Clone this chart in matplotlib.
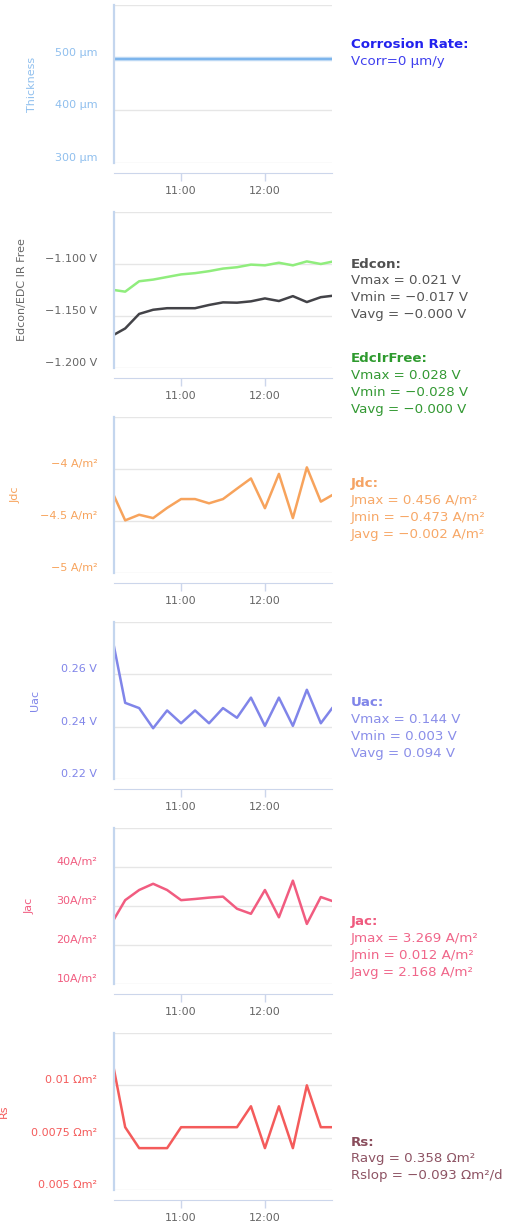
import matplotlib
matplotlib.use("Agg")
import matplotlib.pyplot as plt
import matplotlib.dates as mdates
from matplotlib.transforms import ScaledTranslation
import pandas as pd

# sample times (plot window is clipped to the first / last sample)
times = ["10:12", "10:20", "10:30", "10:40", "10:50", "11:00", "11:10", "11:20",
         "11:30", "11:40", "11:50", "12:00", "12:10", "12:20", "12:30", "12:40", "12:48"]

thickness = [497] * 17
edcon = [-1.168, -1.162, -1.148, -1.144, -1.1425, -1.1425, -1.1425, -1.1394, -1.1369,
         -1.1372, -1.1359, -1.1331, -1.1356, -1.1309, -1.1366, -1.1319, -1.1306]
edc_irfree = [-1.125, -1.1266, -1.1166, -1.115, -1.1125, -1.110, -1.1088, -1.1069, -1.1044,
              -1.1031, -1.1006, -1.1013, -1.0988, -1.1013, -1.0975, -1.100, -1.0978]
jdc = [-4.258, -4.494, -4.440, -4.472, -4.374, -4.289, -4.289, -4.330, -4.289,
       -4.189, -4.091, -4.377, -4.047, -4.472, -3.984, -4.314, -4.252]
uac = [0.2706, 0.2491, 0.2471, 0.2394, 0.2462, 0.2413, 0.2462, 0.2413, 0.2471,
       0.2434, 0.2511, 0.2403, 0.2511, 0.2403, 0.2541, 0.2413, 0.2470]
jac = [26.6, 31.5, 34.1, 35.7, 34.1, 31.5, 31.8, 32.15, 32.4,
       29.3, 28.0, 34.1, 27.1, 36.5, 25.4, 32.3, 31.3]
rs = [0.01075, 0.0080, 0.0070, 0.0070, 0.0070, 0.0080, 0.0080, 0.0080, 0.0080,
      0.0080, 0.0090, 0.0070, 0.0090, 0.0070, 0.0100, 0.0080, 0.0080]

# y tick values / labels per panel
thick_ticks = [300, 400, 500, 600]
thick_labels = ["300 µm", "400 µm", "500 µm", ""]
edc_ticks = [-1.2, -1.15, -1.1, -1.05]
edc_labels = ["\u22121.200 V", "\u22121.150 V", "\u22121.100 V", ""]
jdc_ticks = [-5, -4.5, -4, -3.5]
jdc_labels = ["\u22125 A/m²", "\u22124.5 A/m²", "\u22124 A/m²", ""]
uac_ticks = [0.22, 0.24, 0.26, 0.28]
uac_labels = ["0.22 V", "0.24 V", "0.26 V", ""]
jac_ticks = [10, 20, 30, 40, 50]
jac_labels = ["10A/m²", "20A/m²", "30A/m²", "40A/m²", ""]
rs_ticks = [0.005, 0.0075, 0.01, 0.0125]
rs_labels = ["0.005 Ωm²", "0.0075 Ωm²", "0.01 Ωm²", ""]

# statistics text on the right of each panel
corr_text = ["Corrosion Rate:", "Vcorr=0 µm/y"]
edcon_text = ["Edcon:", "Vmax = 0.021 V", "Vmin = \u22120.017 V", "Vavg = \u22120.000 V"]
irfree_text = ["EdcIrFree:", "Vmax = 0.028 V", "Vmin = \u22120.028 V", "Vavg = \u22120.000 V"]
jdc_text = ["Jdc:", "Jmax = 0.456 A/m²", "Jmin = \u22120.473 A/m²", "Javg = \u22120.002 A/m²"]
uac_text = ["Uac:", "Vmax = 0.144 V", "Vmin = 0.003 V", "Vavg = 0.094 V"]
jac_text = ["Jac:", "Jmax = 3.269 A/m²", "Jmin = 0.012 A/m²", "Javg = 2.168 A/m²"]
rs_text = ["Rs:", "Ravg = 0.358 Ωm²", "Rslop = \u22120.093 Ωm²/d"]

W, H = 527, 1223
fig = plt.figure(figsize=(W / 100, H / 100), dpi=100)
plt.rcParams["font.family"] = ["DejaVu Sans"]

t = pd.to_datetime(["2020-01-01 " + s for s in times])
GRID = "#e6e6e6"
AXIS = "#ccd6eb"


def panel(top, bottom, ticks, labels, color, title, title_x):
    ax = fig.add_axes([114 / W, 1 - bottom / H, 218 / W, (bottom - top) / H])
    ax.set_xlim(t[0], t[-1])
    ax.set_ylim(ticks[0], ticks[-1])
    ax.set_yticks(ticks, labels)
    ax.tick_params(axis="y", length=0, pad=12, labelsize=8, labelcolor=color)
    off = ScaledTranslation(0, 6 / 100, fig.dpi_scale_trans)
    for lab in ax.get_yticklabels():
        lab.set_transform(lab.get_transform() + off)
    ax.yaxis.grid(True, color=GRID, lw=1)
    ax.set_axisbelow(True)
    for s in ("top", "right"):
        ax.spines[s].set_visible(False)
    ax.spines["left"].set_color("#c4d6ee")
    ax.spines["left"].set_linewidth(1.6)
    ax.spines["bottom"].set_position(("outward", 7.5))
    ax.spines["bottom"].set_color(AXIS)
    ax.xaxis.set_major_locator(mdates.HourLocator())
    ax.xaxis.set_major_formatter(mdates.DateFormatter("%H:%M"))
    ax.tick_params(axis="x", length=6, width=1, color=AXIS, labelsize=8,
                   labelcolor="#666666", pad=3)
    ax.set_ylabel(title, color=title_color.get(title, color), fontsize=8)
    ax.yaxis.set_label_coords((title_x - 114) / 218, 0.5)
    return ax


def stats(lines, y0, title_color, body_color):
    for i, s in enumerate(lines):
        fig.text(351 / W, 1 - (y0 + i * 16.8) / H, s, va="center", ha="left",
                 fontsize=9.6, fontweight="bold" if i == 0 else "normal",
                 color=title_color if i == 0 else body_color)


title_color = {"Edcon/EDC IR Free": "#666666"}

ax1 = panel(5, 163, thick_ticks, thick_labels, "#8fbfee", "Thickness", 37)
ax1.plot(t, thickness, color="#bcd8f4", lw=3.2)
ax1.plot(t, thickness, color="#7cb5ec", lw=1.4)
stats(corr_text, 45, "#2222ee", "#3f3fee")

ax2 = panel(212, 368, edc_ticks, edc_labels, "#666666", "Edcon/EDC IR Free", 27)
ax2.plot(t, edc_irfree, color="#90ed7d", lw=1.8)
ax2.plot(t, edcon, color="#434348", lw=1.8)
stats(edcon_text, 264, "#505050", "#555555")
stats(irfree_text, 359, "#2e9a2e", "#339933")

ax3 = panel(417, 573, jdc_ticks, jdc_labels, "#f7a35c", "Jdc", 21)
ax3.plot(t, jdc, color="#f7a35c", lw=1.8)
stats(jdc_text, 484, "#f5a363", "#f7a868")

ax4 = panel(622, 779, uac_ticks, uac_labels, "#8085e9", "Uac", 40)
ax4.plot(t, uac, color="#8085e9", lw=1.8)
stats(uac_text, 703, "#8085e9", "#8a8ee9")

ax5 = panel(828, 984, jac_ticks, jac_labels, "#f15c80", "Jac", 35)
ax5.plot(t, jac, color="#f15c80", lw=1.8)
stats(jac_text, 922, "#ef5a7e", "#f0668a")

ax6 = panel(1033, 1190, rs_ticks, rs_labels, "#f45b5b", "Rs", 9)
ax6.plot(t, rs, color="#f45b5b", lw=1.8)
stats(rs_text, 1142, "#8a4d5c", "#8e5464")

fig.savefig("out.png", dpi=100)
